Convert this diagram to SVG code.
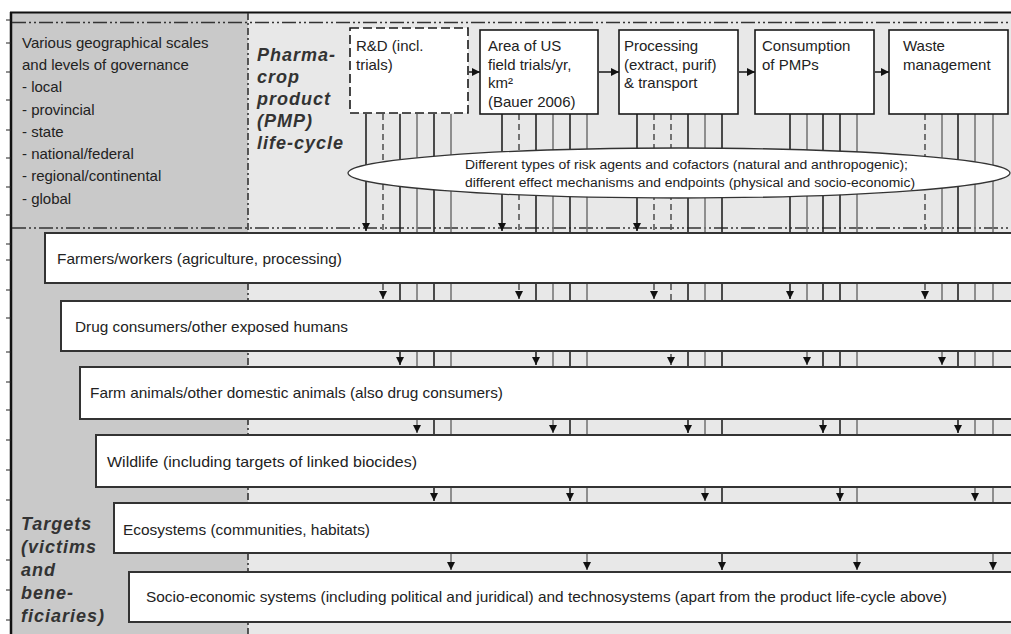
<svg xmlns="http://www.w3.org/2000/svg" width="1011" height="634" viewBox="0 0 1011 634">
<style>
  text { font-family: "Liberation Sans", Arial, sans-serif; fill: #222; }
  .t15 { font-size: 15px; }
  .box { fill: #fff; stroke: #1a1a1a; stroke-width: 1.6; }
  .boxd { fill: #fff; stroke: #1a1a1a; stroke-width: 1.6; stroke-dasharray: 9 4; }
  .row { fill: #fff; stroke: #333; stroke-width: 2; }
  .hd { font-size: 18px; font-weight: bold; font-style: italic; letter-spacing: 1px; fill: #333; }
  .dd { fill: none; stroke: #333; stroke-width: 1.6; stroke-dasharray: 14 3 2 3 2 3; }
  .ln { stroke: #222; stroke-width: 1.6; fill: none; }
  .lg { stroke: #777; stroke-width: 1.6; fill: none; }
  .ldash { stroke: #555; stroke-width: 1.6; fill: none; stroke-dasharray: 6 4; }
  .ell { font-size: 12.5px; }
</style>
<defs>
  <marker id="ah" viewBox="0 0 10 10" refX="10" refY="5" markerWidth="8" markerHeight="9" markerUnits="userSpaceOnUse" orient="auto">
    <path d="M0,0 L10,5 L0,10 z" fill="#111"/>
  </marker>
</defs>

<g id="background">
  <rect x="0" y="0" width="1011" height="634" fill="#fff"/>
  <rect x="11" y="12" width="237" height="622" fill="#c9c9c9"/>
  <rect x="248" y="12" width="763" height="622" fill="#e8e8e8"/>
  <line x1="10" y1="12.5" x2="1011" y2="12.5" stroke="#111" stroke-width="2"/>
  <line x1="11" y1="12" x2="11" y2="634" stroke="#111" stroke-width="2.5"/>
  <path d="M6,20h5M6,43h5M6,72h5M6,100h5M6,130h5M6,158h5M6,187h5M6,215h5M6,244h5M6,260h5M6,290h5M6,318h5M6,352h5M6,382h5M6,410h5M6,440h5M6,470h5M6,500h5M6,530h5M6,560h5M6,590h5M6,620h5" stroke="#222" stroke-width="1.2"/>
  <line class="dd" x1="12" y1="22.5" x2="1011" y2="22.5"/>
  <line class="dd" x1="12" y1="228" x2="1011" y2="228"/>
  <line x1="248" y1="13" x2="248" y2="634" stroke="#333" stroke-width="1.6" stroke-dasharray="7 3 2 3"/>
</g>

<g id="scales-label">
  <text class="t15" x="22" y="48">Various geographical scales</text>
  <text class="t15" x="22" y="70">and levels of governance</text>
  <text class="t15" x="22" y="92">- local</text>
  <text class="t15" x="22" y="115">- provincial</text>
  <text class="t15" x="22" y="137">- state</text>
  <text class="t15" x="22" y="159">- national/federal</text>
  <text class="t15" x="22" y="181">- regional/continental</text>
  <text class="t15" x="22" y="204">- global</text>
</g>

<g id="lifecycle-label">
  <text class="hd" x="257" y="61">Pharma-</text>
  <text class="hd" x="257" y="83">crop</text>
  <text class="hd" x="257" y="105">product</text>
  <text class="hd" x="257" y="127">(PMP)</text>
  <text class="hd" x="257" y="149">life-cycle</text>
</g>

<g id="targets-label">
  <text class="hd" x="21" y="530">Targets</text>
  <text class="hd" x="21" y="553">(victims</text>
  <text class="hd" x="21" y="576">and</text>
  <text class="hd" x="21" y="599">bene-</text>
  <text class="hd" x="21" y="622">ficiaries)</text>
</g>

<g id="connectors">
  <!-- group 1 -->
  <line class="ln" x1="366" y1="114" x2="366" y2="231" marker-end="url(#ah)"/>
  <line class="ldash" x1="383" y1="114" x2="383" y2="299" marker-end="url(#ah)"/>
  <line class="ln" x1="400" y1="114" x2="400" y2="365" marker-end="url(#ah)"/>
  <line class="lg" x1="417" y1="114" x2="417" y2="433" marker-end="url(#ah)"/>
  <line class="ln" x1="434" y1="114" x2="434" y2="501" marker-end="url(#ah)"/>
  <line class="lg" x1="451" y1="114" x2="451" y2="570" marker-end="url(#ah)"/>
  <!-- group 2 -->
  <line class="ln" x1="502" y1="114" x2="502" y2="231" marker-end="url(#ah)"/>
  <line class="ldash" x1="519" y1="114" x2="519" y2="299" marker-end="url(#ah)"/>
  <line class="ln" x1="536" y1="114" x2="536" y2="365" marker-end="url(#ah)"/>
  <line class="lg" x1="553" y1="114" x2="553" y2="433" marker-end="url(#ah)"/>
  <line class="ln" x1="570" y1="114" x2="570" y2="501" marker-end="url(#ah)"/>
  <line class="lg" x1="587" y1="114" x2="587" y2="570" marker-end="url(#ah)"/>
  <!-- group 3 -->
  <line class="ln" x1="637" y1="114" x2="637" y2="231" marker-end="url(#ah)"/>
  <line class="ldash" x1="654" y1="114" x2="654" y2="299" marker-end="url(#ah)"/>
  <line class="ldash" x1="671" y1="114" x2="671" y2="365" marker-end="url(#ah)"/>
  <line class="ln" x1="688" y1="114" x2="688" y2="433" marker-end="url(#ah)"/>
  <line class="lg" x1="705" y1="114" x2="705" y2="501" marker-end="url(#ah)"/>
  <line class="ln" x1="722" y1="114" x2="722" y2="570" marker-end="url(#ah)"/>
  <!-- group 4 -->
  <line class="ln" x1="790" y1="114" x2="790" y2="299" marker-end="url(#ah)"/>
  <line class="lg" x1="807" y1="114" x2="807" y2="365" marker-end="url(#ah)"/>
  <line class="ln" x1="823" y1="114" x2="823" y2="433" marker-end="url(#ah)"/>
  <line class="ln" x1="840" y1="114" x2="840" y2="501" marker-end="url(#ah)"/>
  <line class="lg" x1="857" y1="114" x2="857" y2="570" marker-end="url(#ah)"/>
  <!-- group 5 -->
  <line class="ldash" x1="925" y1="114" x2="925" y2="299" marker-end="url(#ah)"/>
  <line class="lg" x1="942" y1="114" x2="942" y2="365" marker-end="url(#ah)"/>
  <line class="ln" x1="958" y1="114" x2="958" y2="433" marker-end="url(#ah)"/>
  <line class="lg" x1="975" y1="114" x2="975" y2="501" marker-end="url(#ah)"/>
  <line class="lg" x1="993" y1="114" x2="993" y2="570" marker-end="url(#ah)"/>
  <!-- life-cycle sequence -->
  <line class="ln" x1="469" y1="72" x2="480" y2="72" marker-end="url(#ah)"/>
  <line class="ln" x1="599" y1="72" x2="619" y2="72" marker-end="url(#ah)"/>
  <line class="ln" x1="739" y1="72" x2="755" y2="72" marker-end="url(#ah)"/>
  <line class="ln" x1="875" y1="72" x2="889" y2="72" marker-end="url(#ah)"/>
</g>

<g id="risk-agents">
  <ellipse cx="679" cy="173" rx="331" ry="25" fill="#fff" stroke="#333" stroke-width="1.3"/>
  <text class="ell" x="465" y="169" textLength="443" lengthAdjust="spacingAndGlyphs">Different types of risk agents and cofactors (natural and anthropogenic);</text>
  <text class="ell" x="465" y="187" textLength="450" lengthAdjust="spacingAndGlyphs">different effect mechanisms and endpoints (physical and socio-economic)</text>
</g>

<g id="box-rd">
  <rect class="boxd" x="350" y="28" width="118" height="85"/>
  <text class="t15" x="356" y="51">R&amp;D (incl.</text>
  <text class="t15" x="356" y="70">trials)</text>
</g>
<g id="box-area">
  <rect class="box" x="480" y="30" width="118" height="84"/>
  <text class="t15" x="488" y="51">Area of US</text>
  <text class="t15" x="488" y="70">field trials/yr,</text>
  <text class="t15" x="488" y="88">km²</text>
  <text class="t15" x="488" y="107">(Bauer 2006)</text>
</g>
<g id="box-processing">
  <rect class="box" x="619" y="30" width="119" height="84"/>
  <text class="t15" x="624" y="51">Processing</text>
  <text class="t15" x="624" y="70">(extract, purif)</text>
  <text class="t15" x="624" y="88">&amp; transport</text>
</g>
<g id="box-consumption">
  <rect class="box" x="755" y="30" width="119" height="84"/>
  <text class="t15" x="762" y="51">Consumption</text>
  <text class="t15" x="762" y="70">of PMPs</text>
</g>
<g id="box-waste">
  <rect class="box" x="889" y="30" width="119" height="84"/>
  <text class="t15" x="903" y="51">Waste</text>
  <text class="t15" x="903" y="70">management</text>
</g>

<g id="row-farmers">
  <rect class="row" x="45" y="233" width="980" height="50"/>
  <text class="t15" x="57" y="264" textLength="285" lengthAdjust="spacingAndGlyphs">Farmers/workers (agriculture, processing)</text>
</g>
<g id="row-consumers">
  <rect class="row" x="61" y="301" width="980" height="50"/>
  <text class="t15" x="75" y="332" textLength="273" lengthAdjust="spacingAndGlyphs">Drug consumers/other exposed humans</text>
</g>
<g id="row-animals">
  <rect class="row" x="80" y="367" width="980" height="52"/>
  <text class="t15" x="90" y="398" textLength="413" lengthAdjust="spacingAndGlyphs">Farm animals/other domestic animals (also drug consumers)</text>
</g>
<g id="row-wildlife">
  <rect class="row" x="96" y="435" width="980" height="52"/>
  <text class="t15" x="107" y="467" textLength="310" lengthAdjust="spacingAndGlyphs">Wildlife (including targets of linked biocides)</text>
</g>
<g id="row-ecosystems">
  <rect class="row" x="114" y="503" width="980" height="50"/>
  <text class="t15" x="123" y="535" textLength="247" lengthAdjust="spacingAndGlyphs">Ecosystems (communities, habitats)</text>
</g>
<g id="row-socio">
  <rect class="row" x="129" y="572" width="980" height="50"/>
  <text class="t15" x="146" y="602" textLength="801" lengthAdjust="spacingAndGlyphs">Socio-economic systems (including political and juridical) and technosystems (apart from the product life-cycle above)</text>
</g>
</svg>
